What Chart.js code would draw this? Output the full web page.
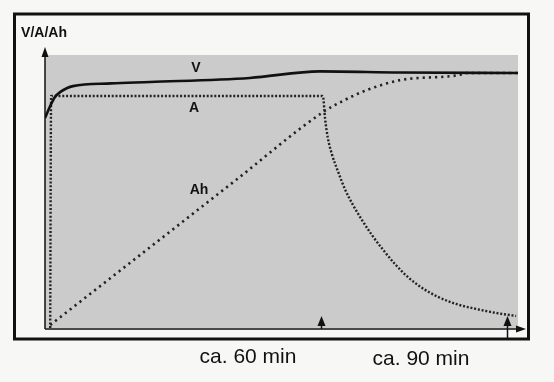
<!DOCTYPE html>
<html>
<head>
<meta charset="utf-8">
<script src="https://cdn.jsdelivr.net/npm/chart.js@4/dist/chart.umd.min.js"></script>
<style>
  html, body { margin:0; padding:0; background:#f7f7f5; }
  #wrap { width:554px; height:382px; position:relative; }
</style>
</head>
<body>
<div id="wrap"><canvas id="chart" width="554" height="382"></canvas></div>
<script>
// charge curve, x in relative time units (0..100), y in relative units (0..100)
var vX  = [0, 1.1, 2.1, 3.2, 4.7, 5.9, 14, 22.2, 43.3, 58.1, 75, 100];
var vY  = [76.9, 81.3, 84.6, 86.4, 87.9, 88.6, 89.6, 90.1, 91.6, 94.0, 93.6, 93.4];

var aX  = [1.1, 1.3, 58.6, 58.8, 59.2, 59.8, 60.7, 62.0, 63.4, 65.1, 67.0, 69.1, 71.5, 74.0, 76.7, 79.7, 83.1, 86.9, 91.1, 95.4, 99.6];
var aY  = [0, 85, 85, 84.6, 76.9, 69.6, 63.4, 57.1, 50.9, 45.1, 39.6, 34.1, 28.6, 23.4, 18.7, 14.7, 11.4, 8.8, 7.0, 5.5, 4.4];

var ahX = [1.1, 20, 40, 58.8, 63.0, 68.1, 75.1, 87.7, 89.2, 100];
var ahY = [1.1, 26.6, 53.7, 79.1, 83.2, 87.2, 90.8, 92.7, 93.4, 93.4];

var markerX = [58.4, 97.7];
var markerLabels = ['ca. 60 min', 'ca. 90 min'];
var seriesNames = ['V', 'A', 'Ah'];
var yTitle = 'V/A/Ah';

function pts(xs, ys){ return xs.map(function(x,i){ return {x:x, y:ys[i]}; }); }

var frame = {
  id:'frame',
  beforeDatasetsDraw: function(chart){
    var c = chart.ctx, a = chart.chartArea;
    c.save();
    c.fillStyle = '#cbcbcb';
    c.fillRect(a.left, a.top, a.right - a.left, a.bottom - a.top);
    c.restore();
  },
  afterDatasetsDraw: function(chart){
    var c = chart.ctx, a = chart.chartArea;
    var xs = chart.scales.x;
    c.save();
    // outer box
    c.strokeStyle = '#111'; c.lineWidth = 3;
    c.strokeRect(14.5, 14, 514, 325);
    // axes
    c.lineWidth = 1.5; c.fillStyle = '#111';
    c.beginPath(); c.moveTo(a.left, a.bottom + 1); c.lineTo(a.left, 52); c.stroke();
    c.beginPath(); c.moveTo(a.left, 47); c.lineTo(a.left - 3.5, 57); c.lineTo(a.left + 3.5, 57); c.closePath(); c.fill();
    c.beginPath(); c.moveTo(a.left, a.bottom + 1); c.lineTo(520, a.bottom + 1); c.stroke();
    c.beginPath(); c.moveTo(526, a.bottom + 1); c.lineTo(516, a.bottom - 2.5); c.lineTo(516, a.bottom + 4.5); c.closePath(); c.fill();
    // time markers
    markerX.forEach(function(v, i){
      var px = Math.round(xs.getPixelForValue(v)) + 0.5;
      var bottom = i === markerX.length - 1 ? 338 : a.bottom + 1;
      c.beginPath(); c.moveTo(px, bottom); c.lineTo(px, 322); c.stroke();
      c.beginPath(); c.moveTo(px, 316); c.lineTo(px - 4, 326); c.lineTo(px + 4, 326); c.closePath(); c.fill();
    });
    // texts
    c.fillStyle = '#111';
    c.textAlign = 'center'; c.textBaseline = 'middle';
    c.font = 'bold 14px "Liberation Sans", Arial, sans-serif';
    c.fillText(yTitle, 44, 33);
    c.fillText(seriesNames[0], 196, 68);
    c.fillText(seriesNames[1], 194, 108);
    c.fillText(seriesNames[2], 199, 190);
    c.font = '21px "Liberation Sans", Arial, sans-serif';
    c.fillText(markerLabels[0], 248, 357);
    c.fillText(markerLabels[1], 421, 359);
    c.restore();
  }
};

new Chart(document.getElementById('chart'), {
  type:'line',
  data:{
    datasets:[
      { label:seriesNames[0], data:pts(vX, vY), borderColor:'#111', borderWidth:2.6, pointRadius:0, cubicInterpolationMode:'monotone' },
      { label:seriesNames[1], data:pts(aX, aY), borderColor:'#222', borderWidth:2.4, borderDash:[2,1.8], pointRadius:0, cubicInterpolationMode:'monotone' },
      { label:seriesNames[2], data:pts(ahX, ahY), borderColor:'#222', borderWidth:2.6, borderDash:[2.2,4], pointRadius:0, cubicInterpolationMode:'monotone' }
    ]
  },
  options:{
    responsive:false, animation:false,
    layout:{ padding:{ left:45, top:55, right:36, bottom:54 } },
    plugins:{ legend:{display:false}, tooltip:{enabled:false}, title:{display:false} },
    scales:{
      x:{ type:'linear', min:0, max:100, display:false },
      y:{ min:0, max:100, display:false }
    }
  },
  plugins:[frame]
});
</script>
</body>
</html>
